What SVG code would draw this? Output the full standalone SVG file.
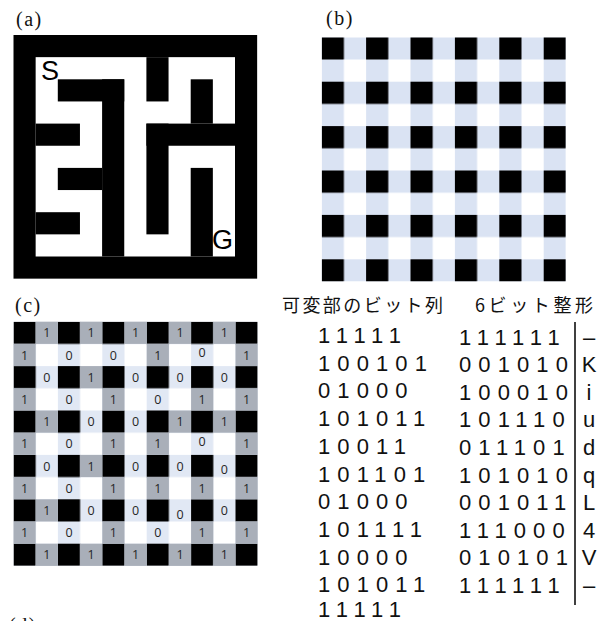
<svg xmlns="http://www.w3.org/2000/svg" width="603" height="621" viewBox="0 0 603 621">
<style>
.lbl{font-family:"Liberation Serif","Noto Serif",serif;font-size:20px;letter-spacing:1.5px;fill:#111}
.sg{font-family:"Liberation Sans",Arial,sans-serif;font-size:27px;fill:#000}
.cd{font-family:"Open Sans","Liberation Sans",sans-serif;font-size:12.5px;fill:#262626;text-anchor:middle}
.g1{fill:#A9AFB9}
.hd{font-family:"Noto Sans CJK JP","Noto Sans CJK SC",sans-serif;font-size:18px;fill:#111}
.bt{font-family:"Liberation Sans",Arial,sans-serif;font-size:22px;letter-spacing:7.1px;fill:#111}
.ch{font-family:"Liberation Sans",Arial,sans-serif;font-size:22px;fill:#111;text-anchor:middle}
</style>
<defs>
<pattern id="pb" patternUnits="userSpaceOnUse" x="321.7" y="37.3" width="44.4" height="44.4">
<rect width="44.4" height="44.4" fill="#DAE3F3"/>
<rect width="22.2" height="22.2" fill="#000"/>
<rect x="22.2" y="22.2" width="22.2" height="22.2" fill="#fff"/>
</pattern>
<pattern id="pc" patternUnits="userSpaceOnUse" x="13.5" y="321.7" width="44.4" height="44.4">
<rect width="44.4" height="44.4" fill="#E1E8F4"/>
<rect width="22.2" height="22.2" fill="#000"/>
<rect x="22.2" y="22.2" width="22.2" height="22.2" fill="#fff"/>
</pattern>
</defs>
<rect width="603" height="621" fill="#fff"/>

<g id="panel-a">
<text class="lbl" x="16" y="26">(a)</text>
<rect x="13.5" y="35" width="243.65" height="243.65" fill="#000"/>
<rect x="35.65" y="57.15" width="199.35" height="199.35" fill="#fff"/>
<g fill="#000">
<rect x="146.4" y="57.15" width="22.15" height="44.3"/>
<rect x="57.8" y="79.3" width="66.45" height="22.15"/>
<rect x="102.1" y="79.3" width="22.15" height="177.2"/>
<rect x="35.65" y="123.6" width="44.3" height="22.15"/>
<rect x="57.8" y="167.9" width="44.3" height="22.15"/>
<rect x="35.65" y="212.2" width="44.3" height="22.15"/>
<rect x="190.7" y="79.3" width="22.15" height="44.3"/>
<rect x="146.4" y="123.6" width="88.6" height="22.15"/>
<rect x="146.4" y="123.6" width="22.15" height="110.75"/>
<rect x="190.7" y="167.9" width="22.15" height="88.6"/>
</g>
<text class="sg" x="41" y="80">S</text>
<text class="sg" x="212" y="248.5">G</text>
</g>

<g id="panel-b">
<text class="lbl" x="326" y="25">(b)</text>
<rect x="321.7" y="37.3" width="244.2" height="244.2" fill="url(#pb)"/>
</g>

<g id="panel-c">
<text class="lbl" x="15" y="312">(c)</text>
<rect x="13.5" y="321.7" width="244.2" height="244.2" fill="url(#pc)"/>
<g class="g1">
<rect x="35.7" y="321.7" width="22.2" height="22.2"/><rect x="80.1" y="321.7" width="22.2" height="22.2"/><rect x="124.5" y="321.7" width="22.2" height="22.2"/><rect x="168.9" y="321.7" width="22.2" height="22.2"/><rect x="213.3" y="321.7" width="22.2" height="22.2"/>
<rect x="13.5" y="343.9" width="22.2" height="22.2"/><rect x="146.7" y="343.9" width="22.2" height="22.2"/><rect x="235.5" y="343.9" width="22.2" height="22.2"/>
<rect x="80.1" y="366.1" width="22.2" height="22.2"/>
<rect x="13.5" y="388.3" width="22.2" height="22.2"/><rect x="102.3" y="388.3" width="22.2" height="22.2"/><rect x="191.1" y="388.3" width="22.2" height="22.2"/><rect x="235.5" y="388.3" width="22.2" height="22.2"/>
<rect x="35.7" y="410.5" width="22.2" height="22.2"/><rect x="168.9" y="410.5" width="22.2" height="22.2"/><rect x="213.3" y="410.5" width="22.2" height="22.2"/>
<rect x="13.5" y="432.7" width="22.2" height="22.2"/><rect x="102.3" y="432.7" width="22.2" height="22.2"/><rect x="146.7" y="432.7" width="22.2" height="22.2"/><rect x="235.5" y="432.7" width="22.2" height="22.2"/>
<rect x="80.1" y="454.9" width="22.2" height="22.2"/>
<rect x="13.5" y="477.1" width="22.2" height="22.2"/><rect x="102.3" y="477.1" width="22.2" height="22.2"/><rect x="146.7" y="477.1" width="22.2" height="22.2"/><rect x="191.1" y="477.1" width="22.2" height="22.2"/><rect x="235.5" y="477.1" width="22.2" height="22.2"/>
<rect x="35.7" y="499.3" width="22.2" height="22.2"/>
<rect x="13.5" y="521.5" width="22.2" height="22.2"/><rect x="102.3" y="521.5" width="22.2" height="22.2"/><rect x="191.1" y="521.5" width="22.2" height="22.2"/><rect x="235.5" y="521.5" width="22.2" height="22.2"/>
<rect x="35.7" y="543.7" width="22.2" height="22.2"/><rect x="80.1" y="543.7" width="22.2" height="22.2"/><rect x="124.5" y="543.7" width="22.2" height="22.2"/><rect x="168.9" y="543.7" width="22.2" height="22.2"/><rect x="213.3" y="543.7" width="22.2" height="22.2"/>
</g>
<text class="cd" x="46.8 91.2 135.6 180 224.4" y="337.3">11111</text>
<text class="cd" x="24.6 69 113.4 157.8 202.2 246.6" y="359.5 359.5 359.5 359.5 356.5 359.5">100101</text>
<text class="cd" x="46.8 91.2 135.6 180 224.4" y="381.7">01000</text>
<text class="cd" x="24.6 69 113.4 157.8 202.2 246.6" y="403.9">101011</text>
<text class="cd" x="46.8 91.2 135.6 180 224.4" y="426.1">10011</text>
<text class="cd" x="24.6 69 113.4 157.8 202.2 246.6" y="448.3 448.3 448.3 448.3 446.3 448.3">101101</text>
<text class="cd" x="46.8 91.2 135.6 180 224.4" y="470.5 470.5 470.5 470.5 473.5">01000</text>
<text class="cd" x="24.6 69 113.4 157.8 202.2 246.6" y="492.7">101111</text>
<text class="cd" x="46.8 91.2 135.6 180 224.4" y="514.9 514.9 514.9 518.9 514.9">10000</text>
<text class="cd" x="24.6 69 113.4 157.8 202.2 246.6" y="537.1">101011</text>
<text class="cd" x="46.8 91.2 135.6 180 224.4" y="559.3">11111</text>
</g>

<g id="panel-bits">
<text class="hd" x="282" y="311.5" textLength="161" lengthAdjust="spacing">可変部のビット列</text>
<text class="hd" x="475" y="311.5" textLength="118" lengthAdjust="spacing">6ビット整形</text>
<g class="bt">
<text x="318" y="343">11111</text>
<text x="318" y="370.7">100101</text>
<text x="318" y="398.4">01000</text>
<text x="318" y="426.1">101011</text>
<text x="318" y="453.8">10011</text>
<text x="318" y="481.5">101101</text>
<text x="318" y="509.2">01000</text>
<text x="318" y="536.9">101111</text>
<text x="318" y="564.6">10000</text>
<text x="318" y="592.3">101011</text>
<text x="318" y="617">11111</text>
</g>
<g class="bt">
<text x="459" y="344.5">111111</text>
<text x="459" y="372.1">001010</text>
<text x="459" y="399.7">100010</text>
<text x="459" y="427.3">101110</text>
<text x="459" y="454.9">011101</text>
<text x="459" y="482.5">101010</text>
<text x="459" y="510.1">001011</text>
<text x="459" y="537.7">111000</text>
<text x="459" y="565.3">010101</text>
<text x="459" y="592.9">111111</text>
</g>
<line x1="575" y1="322" x2="575" y2="605" stroke="#000" stroke-width="1.5"/>
<g class="ch">
<text x="589" y="344.5">–</text>
<text x="589" y="372.1">K</text>
<text x="589" y="399.7">i</text>
<text x="589" y="427.3">u</text>
<text x="589" y="454.9">d</text>
<text x="589" y="482.5">q</text>
<text x="589" y="510.1">L</text>
<text x="589" y="537.7">4</text>
<text x="589" y="565.3">V</text>
<text x="589" y="592.9">–</text>
</g>
</g>

<g id="panel-d">
<text class="lbl" x="9" y="632">(d)</text>
</g>
</svg>
